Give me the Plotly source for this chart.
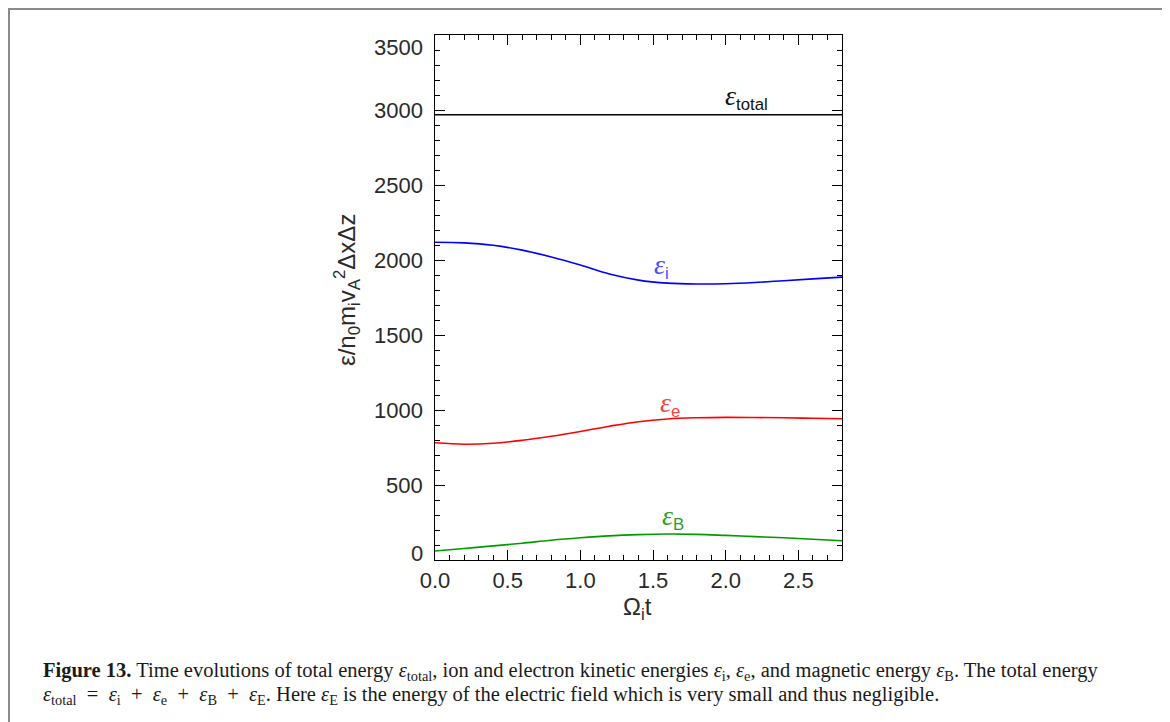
import plotly.graph_objects as go

# ---- data ----
t = [0.0, 0.2, 0.4, 0.6, 0.8, 1.0, 1.2, 1.4, 1.6, 1.8, 2.0, 2.2, 2.4, 2.6, 2.8]
e_total = [2968, 2968, 2968, 2968, 2968, 2968, 2968, 2968, 2968, 2968, 2968, 2968, 2968, 2968, 2968]
e_ion = [2118, 2114, 2098, 2066, 2020, 1966, 1906, 1866, 1846, 1840, 1842, 1850, 1862, 1874, 1886]
e_ele = [782, 772, 778, 798, 825, 857, 892, 922, 940, 948, 951, 950, 948, 945, 942]
e_B = [60, 77, 94, 112, 132, 148, 161, 169, 173, 171, 164, 156, 148, 138, 128]

ytick_vals = [0, 500, 1000, 1500, 2000, 2500, 3000, 3500]
ytick_text = ["0", "500", "1000", "1500", "2000", "2500", "3000", "3500"]
xtick_vals = [0.0, 0.5, 1.0, 1.5, 2.0, 2.5]
xtick_text = ["0.0", "0.5", "1.0", "1.5", "2.0", "2.5"]

# ---- layout geometry (page body adds an 8px offset) ----
W, H = 1170, 722
OFF = 8
L, T = 427, 27
pw, ph = 407, 525
R, B = W - L - pw, H - T - ph

def px(x):  # screen pixel x -> paper
    return (x - OFF - L) / pw

def py(y):  # screen pixel y -> paper
    return (H - B - (y - OFF)) / ph

fig = go.Figure()
series = [
    (e_total, "black"),
    (e_ion, "#0000ff"),
    (e_ele, "#ff0000"),
    (e_B, "#009a00"),
]
for vals, col in series:
    fig.add_trace(go.Scatter(x=t, y=vals, mode="lines", line=dict(color=col, width=1.6, shape="spline"),
                             showlegend=False, hoverinfo="skip"))

tickfont = dict(family="Liberation Sans, Arial, sans-serif", size=22, color="#2a2a2a")

fig.update_layout(
    width=W, height=H,
    margin=dict(l=L, r=R, t=T, b=B),
    paper_bgcolor="white", plot_bgcolor="white",
    xaxis=dict(range=[0, 2.8], tickvals=xtick_vals, ticktext=xtick_text,
               ticks="inside", ticklen=10, tickwidth=1, tickcolor="black",
               minor=dict(dtick=0.1, ticks="inside", ticklen=5, tickcolor="black", tickwidth=1, showgrid=False),
               showline=True, linecolor="black", linewidth=1.2, mirror="ticks",
               showgrid=False, zeroline=False, tickfont=tickfont, ticklabelstandoff=0),
    yaxis=dict(range=[0, 3500], tickvals=ytick_vals, showticklabels=False,
               ticks="inside", ticklen=10, tickwidth=1, tickcolor="black",
               minor=dict(dtick=100, ticks="inside", ticklen=5, tickcolor="black", tickwidth=1, showgrid=False),
               showline=True, linecolor="black", linewidth=1.2, mirror="ticks",
               showgrid=False, zeroline=False),
)

# y tick labels (IDL-style placement: top label pushed down, bottom pushed up)
for v, s in zip(ytick_vals, ytick_text):
    shift = 0
    if v == ytick_vals[-1]:
        shift = -12
    elif v == ytick_vals[0]:
        shift = 7
    fig.add_annotation(xref="paper", yref="y", x=px(425), y=v, text=s, showarrow=False,
                       xanchor="right", yanchor="middle", yshift=shift, font=tickfont)

# axis titles
fig.add_annotation(xref="paper", yref="paper", x=px(347), y=py(290), textangle=-90,
                   xanchor="center", yanchor="middle",
                   text="ε/n<sub>0</sub>m<sub>i</sub>v<sub>A</sub><sup>2</sup>ΔxΔz", showarrow=False,
                   font=dict(family="Liberation Sans, Arial, sans-serif", size=24, color="#2a2a2a"))
fig.add_annotation(xref="paper", yref="paper", x=px(637), y=py(608),
                   xanchor="center", yanchor="middle",
                   text="Ω<sub>i</sub>t", showarrow=False,
                   font=dict(family="Liberation Sans, Arial, sans-serif", size=24, color="#2a2a2a"))

# curve labels
eps = '<span style="font-family:Liberation Serif;font-style:italic;font-size:28px">ε</span>'
labels = [
    (2.14, 3085, "total", "#111111"),
    (1.56, 1962, "i", "#4a4aff"),
    (1.62, 1040, "e", "#ff4040"),
    (1.64, 290, "B", "#2aa02a"),
]
for xv, yv, sub, col in labels:
    fig.add_annotation(x=xv, y=yv, xref="x", yref="y", showarrow=False,
                       xanchor="center", yanchor="middle",
                       text=eps + "<sub>" + sub + "</sub>",
                       font=dict(family="Liberation Sans, Arial, sans-serif", size=24, color=col))

# caption
capfont = dict(family="Liberation Serif, Times New Roman, serif", size=20.5, color="#1a1a1a")
e_ = "<i>ε</i>"
sp = "\u00a0\u00a0"
line1 = ("<b>Figure 13.</b> Time evolutions of total energy " + e_ + "<sub>total</sub>, ion and electron kinetic energies "
         + e_ + "<sub>i</sub>, " + e_ + "<sub>e</sub>, and magnetic energy " + e_ + "<sub>B</sub>. The total energy")
line2 = (e_ + "<sub>total</sub>" + sp + "=" + sp + e_ + "<sub>i</sub>" + sp + "+" + sp + e_ + "<sub>e</sub>"
         + sp + "+" + sp + e_ + "<sub>B</sub>" + sp + "+" + sp
         + e_ + "<sub>E</sub>. Here " + e_ + "<sub>E</sub> is the energy of the electric field which is very small and thus negligible.")
fig.add_annotation(xref="paper", yref="paper", x=px(41), y=py(671), text=line1, showarrow=False,
                   xanchor="left", yanchor="middle", font=capfont)
fig.add_annotation(xref="paper", yref="paper", x=px(41), y=py(695), text=line2, showarrow=False,
                   xanchor="left", yanchor="middle", font=capfont)

# outer frame
fig.add_shape(type="rect", xref="paper", yref="paper", x0=px(9), x1=px(1164), y0=py(760), y1=py(9),
              line=dict(color="#8a8a8a", width=2), fillcolor="rgba(0,0,0,0)", layer="above")

fig.write_html("out.html")
